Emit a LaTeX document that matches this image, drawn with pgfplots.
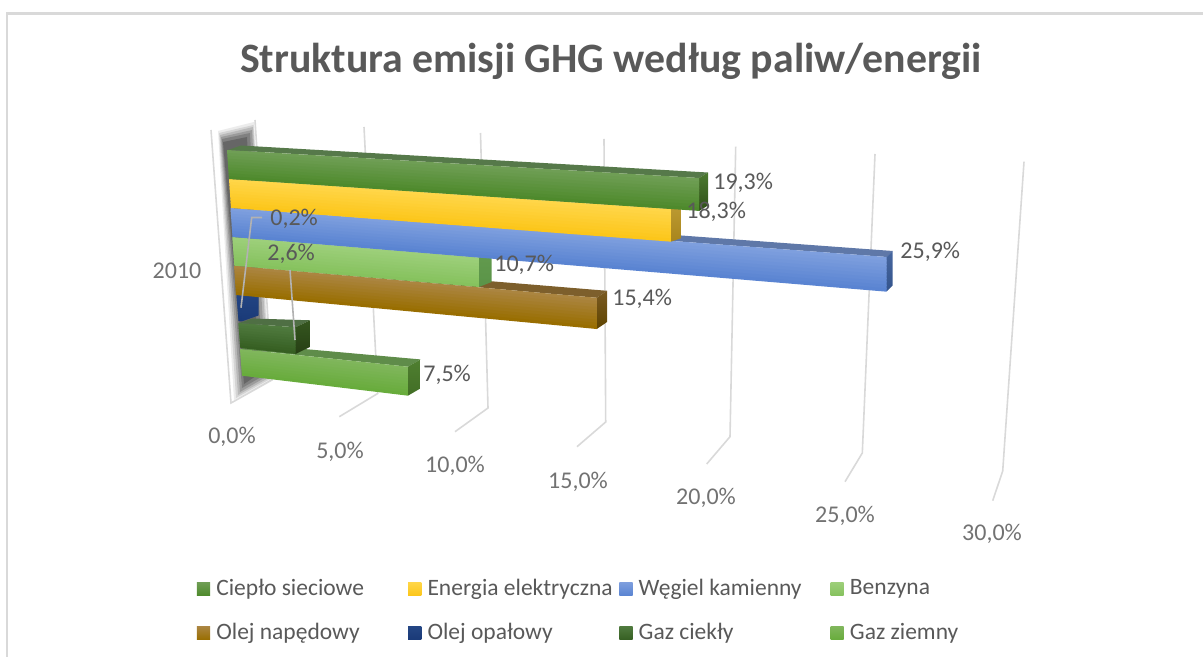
\documentclass[border=0pt]{standalone}
\usepackage{pgfplots}
\pgfplotsset{compat=1.18}
\usepackage{fontspec}
\setmainfont{Carlito}
% colours: ft/fb front top/bottom, t top face, sa/sb side top/bottom
\definecolor{aft}{HTML}{6F9E55}\definecolor{afb}{HTML}{4E8A2C}\definecolor{at}{HTML}{56794A}\definecolor{asa}{HTML}{4C7A30}\definecolor{asb}{HTML}{2F5018}
\definecolor{bft}{HTML}{FFD648}\definecolor{bfb}{HTML}{FCC61A}\definecolor{bt}{HTML}{B8952E}\definecolor{bsa}{HTML}{BC9A32}\definecolor{bsb}{HTML}{A8851C}
\definecolor{cft}{HTML}{7E9FDE}\definecolor{cfb}{HTML}{5A84D2}\definecolor{ct}{HTML}{5F78A8}\definecolor{csa}{HTML}{46669F}\definecolor{csb}{HTML}{34548C}
\definecolor{dft}{HTML}{9DCF7A}\definecolor{dfb}{HTML}{86C25E}\definecolor{dt}{HTML}{6A9A50}\definecolor{dsa}{HTML}{639A4E}\definecolor{dsb}{HTML}{5A9448}
\definecolor{eft}{HTML}{AB8540}\definecolor{efb}{HTML}{996E00}\definecolor{et}{HTML}{7D5F2C}\definecolor{esa}{HTML}{7A5A22}\definecolor{esb}{HTML}{5E4400}
\definecolor{fft}{HTML}{244684}\definecolor{ffb}{HTML}{1A3A78}\definecolor{ft}{HTML}{2A4C8C}\definecolor{fsa}{HTML}{244684}\definecolor{fsb}{HTML}{1A3A78}
\definecolor{gft}{HTML}{4F7A3E}\definecolor{gfb}{HTML}{365F22}\definecolor{gt}{HTML}{4F6F44}\definecolor{gsa}{HTML}{35561F}\definecolor{gsb}{HTML}{263F14}
\definecolor{hft}{HTML}{80B65C}\definecolor{hfb}{HTML}{68AC3C}\definecolor{ht}{HTML}{5F8C4A}\definecolor{hsa}{HTML}{4F7F30}\definecolor{hsb}{HTML}{426E26}
\definecolor{txt}{HTML}{595959}
\definecolor{gridc}{HTML}{D9D9D9}
\def\getoff#1,#2\relax{\def\dx{#1}\def\dy{#2}}
% #1 colour prefix, #2 value in %, #3 x at 0 %, #4/#5 top/bottom y at 0 %,
% #6 x at 30 %, #7/#8 top/bottom y at 30 %, #9 depth offset of the bar's end
\newcommand\hb[9]{%
  \getoff#9\relax
  \pgfmathsetmacro\uu{#2/30}%
  \pgfmathsetmacro\tt{\uu/(1+0.19*(1-\uu))}%
  \pgfmathsetmacro\xE{#3+\tt*(#6-#3)}%
  \pgfmathsetmacro\yT{#4+\tt*(#7-#4)}%
  \pgfmathsetmacro\yB{#5+\tt*(#8-#5)}%
  \pgfmathsetmacro\xa{\xE+\dx}\pgfmathsetmacro\yaT{\yT+\dy}\pgfmathsetmacro\yaB{\yB+\dy}%
  \pgfmathsetmacro\xb{#3+13}\pgfmathsetmacro\yb{#4-4.5}%
  \edef\temp{\noexpand\addplot[forget plot,draw=none,fill=#1t] coordinates {(\xb,\yb) (\xa,\yaT) (\xE,\yT) (#3,#4)} -- cycle;}\temp
  \edef\temp{\noexpand\addplot[forget plot,draw=none,top color=#1sa,bottom color=#1sb] coordinates {(\xE,\yT) (\xa,\yaT) (\xa,\yaB) (\xE,\yB)} -- cycle;}\temp
  \pgfplotsforeachungrouped \s in {0,...,9}{%
    \pgfmathsetmacro\fa{\s/10}%
    \pgfmathsetmacro\fb{min(1,(\s+1.3)/10)}%
    \pgfmathtruncatemacro\pct{100-\s*11}%
    \pgfmathsetmacro\xla{#3-1+2*\fa}\pgfmathsetmacro\xlb{#3-1+2*\fb}%
    \pgfmathsetmacro\yla{#4+(#5-#4)*\fa}\pgfmathsetmacro\ylb{#4+(#5-#4)*\fb}%
    \pgfmathsetmacro\yra{\yT+(\yB-\yT)*\fa}\pgfmathsetmacro\yrb{\yT+(\yB-\yT)*\fb}%
    \edef\temp{\noexpand\addplot[forget plot,draw=none,fill=#1ft!\pct!#1fb] coordinates {(\xla,\yla) (\xE,\yra) (\xE,\yrb) (\xlb,\ylb)} -- cycle;}\temp
  }%
}
\newcommand\lab[3]{\node[anchor=west,inner sep=0pt,text=txt] at (axis cs:#1,#2) {#3};}
\newcommand\tick[3]{\node[anchor=center,inner sep=0pt,text=txt!85!white] at (axis cs:#1,#2) {#3};}
\newcommand\gline[1]{\addplot[forget plot,color=gridc,line width=0.8pt] coordinates {#1};}
\begin{document}
\begin{tikzpicture}
\begin{axis}[
  scale only axis, width=601.5pt, height=328.5pt,
  xmin=0, xmax=1203, ymin=0, ymax=657, y dir=reverse,
  hide axis,
  font=\fontsize{12}{13}\selectfont,
  legend columns=4,
  legend style={at={(0.1637,0.1185)},anchor=north west,draw=none,fill=none,inner sep=0pt,outer sep=0pt,
    font=\fontsize{11.75}{13}\selectfont,text=txt,row sep=12.5pt,column sep=0pt,
    nodes={inner sep=0pt,outer sep=0pt}},
  legend cell align=left,
  legend image code/.code={\path[#1] (0pt,-3.3pt) rectangle (6.6pt,3.3pt);},
]
\path (axis cs:0,0) rectangle (axis cs:1203,657);
% legend
\addlegendimage{draw=none,top color=aft,bottom color=afb}\addlegendentry{\hspace{3.1pt}\makebox[95.9pt][l]{Ciepło sieciowe}}
\addlegendimage{draw=none,top color=bft,bottom color=bfb}\addlegendentry{\hspace{3.1pt}\makebox[95.9pt][l]{Energia elektryczna}}
\addlegendimage{draw=none,top color=cft,bottom color=cfb}\addlegendentry{\hspace{3.1pt}\makebox[95.9pt][l]{Węgiel kamienny}}
\addlegendimage{draw=none,top color=dft,bottom color=dfb}\addlegendentry{\hspace{3.1pt}\makebox[95.9pt][l]{Benzyna}}
\addlegendimage{draw=none,top color=eft,bottom color=efb}\addlegendentry{\hspace{3.1pt}\makebox[95.9pt][l]{Olej napędowy}}
\addlegendimage{draw=none,top color=fft,bottom color=ffb}\addlegendentry{\hspace{3.1pt}\makebox[95.9pt][l]{Olej opałowy}}
\addlegendimage{draw=none,top color=gft,bottom color=gfb}\addlegendentry{\hspace{3.1pt}\makebox[95.9pt][l]{Gaz ciekły}}
\addlegendimage{draw=none,top color=hft,bottom color=hfb}\addlegendentry{\hspace{3.1pt}\makebox[95.9pt][l]{Gaz ziemny}}
% frame of the picture
\addplot[forget plot,color=gridc,line width=1.2pt] coordinates {(7,657) (7,13.5) (1203,13.5)};
% wall at 0 %
\addplot[forget plot,color=gridc,line width=0.8pt] coordinates {(211,130) (231,403) (272,380) (255,120)};
\addplot[forget plot,draw=none,fill=black!75,opacity=0.10] coordinates {(218,131) (254,122) (271,380) (234,400)} -- cycle;
\addplot[forget plot,draw=none,fill=black!75,opacity=0.14] coordinates {(219,133) (253.5,125) (270,379) (236,398)} -- cycle;
\addplot[forget plot,draw=none,fill=black!75,opacity=0.18] coordinates {(220,135) (253,127) (268.5,378) (238,395)} -- cycle;
\addplot[forget plot,draw=none,fill=black!75,opacity=0.24] coordinates {(221,137) (252,130) (266,377) (240,392)} -- cycle;
\addplot[forget plot,draw=none,fill=black!75,opacity=0.30] coordinates {(222,139) (250,133) (263,376) (242,388)} -- cycle;
\addplot[forget plot,draw=none,fill=black!75,opacity=0.40] coordinates {(223,142) (247,137) (259,374) (244,384)} -- cycle;
% grid lines at 5 ... 30 %
\gline{(364,127) (377.7,393.5) (339.3,416.7)}
\gline{(480.5,133) (488,408) (455,431.7)}
\gline{(604,139) (605.7,422) (577,446.7)}
\gline{(735.7,146.7) (730,436.7) (706.7,464)}
\gline{(875,154) (862.3,453) (845,481.7)}
\gline{(1024,161.7) (1002.7,471) (992.7,500.7)}
% bars, from the nearest-to-floor one upward
\hb{h}{7.5}{241}{349}{375.7}{1004}{430}{467}{12.6,-7.3}
\hb{g}{2.6}{239.3}{323}{348}{1002}{381}{429}{14.3,-7}
\hb{f}{0.2}{237.5}{295}{321}{1005}{367}{396}{17,-6}
\hb{e}{15.4}{235}{265.7}{295}{1005}{334}{367.4}{10.3,-7}
\hb{d}{10.7}{233.3}{237}{265.7}{1006.4}{301.8}{332.7}{12.7,-5}
\hb{c}{25.9}{231.5}{208}{237}{1010}{266.2}{302}{6,-6}
\hb{b}{18.3}{230}{179}{208}{1006.5}{232}{267.3}{10,-3.5}
\hb{a}{19.3}{228}{150}{179}{1010}{196.5}{232}{9,-5.5}
% leader lines
\addplot[forget plot,color=black!30,line width=0.8pt] coordinates {(262,217.5) (251.7,217.5) (241,307.7)};
\addplot[forget plot,color=black!30,line width=0.8pt] coordinates {(290,270) (295,340)};
% data labels
\lab{713}{183}{19,3\%}
\lab{686}{212}{18,3\%}
\lab{900}{252}{25,9\%}
\lab{494}{265}{10,7\%}
\lab{612}{299}{15,4\%}
\lab{423}{375}{7,5\%}
\lab{270}{219}{0,2\%}
\lab{267}{254}{2,6\%}
% axis labels
\tick{177}{271}{2010}
\tick{232}{437}{0,0\%}
\tick{340}{452}{5,0\%}
\tick{455}{466}{10,0\%}
\tick{578}{482}{15,0\%}
\tick{706}{498}{20,0\%}
\tick{845}{516}{25,0\%}
\tick{992}{534}{30,0\%}
% title
\node[anchor=center,inner sep=0pt,text=txt,font=\fontsize{20.9}{24}\selectfont\bfseries] at (axis cs:611,61) {Struktura emisji GHG według paliw/energii};
\end{axis}
\end{tikzpicture}
\end{document}
